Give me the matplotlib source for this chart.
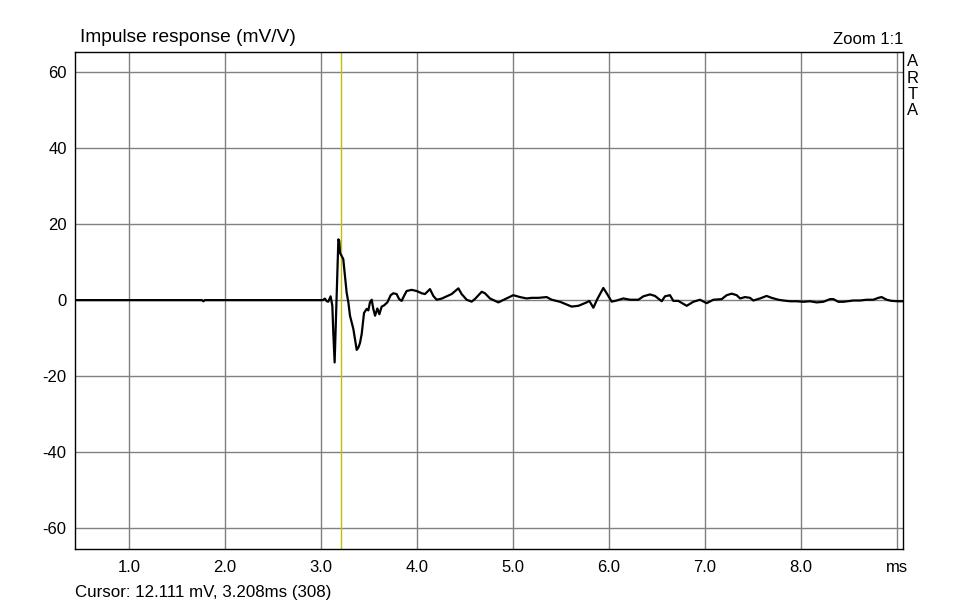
import matplotlib
matplotlib.use("Agg")
import matplotlib.pyplot as plt

plt.rcParams["font.family"] = ["Liberation Sans", "DejaVu Sans"]
plt.rcParams["axes.unicode_minus"] = False

# impulse response trace (ms, mV/V)
time_ms = [
    0.44, 1.76, 1.775, 1.79, 3.02, 3.04, 3.06, 3.076, 3.100, 3.118, 3.128, 3.142,
    3.181, 3.190, 3.198, 3.205, 3.232, 3.250, 3.267, 3.285, 3.302, 3.337,
    3.372, 3.389, 3.406, 3.424, 3.448, 3.476, 3.493, 3.510, 3.528, 3.545,
    3.563, 3.587, 3.608, 3.632, 3.656, 3.691, 3.726, 3.753, 3.788, 3.813,
    3.840, 3.865, 3.892, 3.944, 3.997, 4.049, 4.083, 4.135, 4.170, 4.205,
    4.257, 4.309, 4.361, 4.431, 4.465, 4.517, 4.569, 4.604, 4.674, 4.708,
    4.760, 4.847, 5.003, 5.073, 5.142, 5.194, 5.264, 5.351, 5.403, 5.490,
    5.611, 5.681, 5.767, 5.795, 5.837, 5.878, 5.941, 5.976, 6.028, 6.080,
    6.149, 6.219, 6.306, 6.358, 6.427, 6.479, 6.549, 6.583, 6.635, 6.670,
    6.722, 6.809, 6.878, 6.948, 7.017, 7.087, 7.174, 7.226, 7.278, 7.330,
    7.365, 7.417, 7.469, 7.503, 7.573, 7.642, 7.694, 7.764, 7.816, 7.885,
    7.955, 8.024, 8.094, 8.163, 8.233, 8.302, 8.337, 8.389, 8.441, 8.545,
    8.615, 8.684, 8.753, 8.806, 8.840, 8.892, 8.944, 9.014, 9.062,
]
response_mv = [
    0.0, 0.0, -0.3, 0.0, 0.0, 0.4, -0.3, -0.4, 1.0, -1.5, -8.5, -16.4,
    16.0, 15.6, 12.5, 12.1, 10.8, 6.4, 2.0, -0.6, -4.1, -7.6,
    -13.1, -12.5, -11.3, -8.9, -3.4, -2.3, -2.7, -0.6, 0.1, -2.3,
    -4.1, -2.2, -3.7, -1.7, -1.4, -0.6, 1.3, 1.8, 1.6, 0.3,
    -0.2, 1.1, 2.4, 2.7, 2.4, 1.8, 1.6, 2.9, 1.1, 0.1,
    0.4, 1.0, 1.6, 3.1, 1.6, 0.1, -0.4, 0.3, 2.2, 1.8,
    0.44, -0.6, 1.3, 0.8, 0.44, 0.6, 0.6, 0.8, 0.1, -0.44,
    -1.7, -1.5, -0.6, -0.2, -2.0, 0.26, 3.2, 1.8, -0.4, -0.1,
    0.44, 0.1, 0.1, 1.0, 1.5, 1.1, -0.3, 1.0, 1.3, -0.2,
    -0.2, -1.5, -0.44, 0.1, -0.8, 0.1, 0.26, 1.3, 1.7, 1.3,
    0.44, 0.8, 0.6, -0.1, 0.44, 1.1, 0.6, 0.1, -0.1, -0.3,
    -0.3, -0.44, -0.3, -0.6, -0.44, 0.26, 0.26, -0.44, -0.44, -0.1,
    -0.1, 0.1, 0.1, 0.6, 0.8, 0.1, -0.2, -0.3, -0.3,
]

x_ticks = [1, 2, 3, 4, 5, 6, 7, 8, 9]
x_tick_labels = ["1.0", "2.0", "3.0", "4.0", "5.0", "6.0", "7.0", "8.0", "ms"]
y_ticks = [-60, -40, -20, 0, 20, 40, 60]
cursor_ms = 3.208

fig = plt.figure(figsize=(9.57, 6.07), dpi=100)
ax = fig.add_axes([75 / 957, 1 - 549 / 607, 828 / 957, 497 / 607])

ax.set_xlim(0.4375, 9.0625)
ax.set_ylim(-65.5, 65.3)
ax.set_xticks(x_ticks)
ax.set_xticklabels(x_tick_labels)
ax.set_yticks(y_ticks)
ax.tick_params(length=0, labelsize=12, colors="black")
ax.tick_params(axis="x", pad=8)
ax.tick_params(axis="y", pad=6)
ax.grid(True, color="#808080", linewidth=1.0)
ax.set_axisbelow(True)
for spine in ax.spines.values():
    spine.set_color("black")
    spine.set_linewidth(1.0)

ax.axvline(cursor_ms, color="#c0c000", linewidth=1.0, zorder=2)
ax.plot(time_ms, response_mv, color="black", linewidth=1.6, zorder=3)

fig.text(80 / 957, 1 - 38 / 607, "Impulse response (mV/V)", fontsize=13.8,
         ha="left", va="center")
fig.text(903 / 957, 1 - 40 / 607, "Zoom 1:1", fontsize=12, ha="right", va="center")
for i, letter in enumerate("ARTA"):
    fig.text(913 / 957, 1 - (62 + 16.3 * i) / 607, letter, fontsize=12,
             ha="center", va="center")
fig.text(75 / 957, 1 - 593 / 607, "Cursor: 12.111 mV, 3.208ms (308)", fontsize=12.2,
         ha="left", va="center")

fig.savefig("out.png", dpi=100)
